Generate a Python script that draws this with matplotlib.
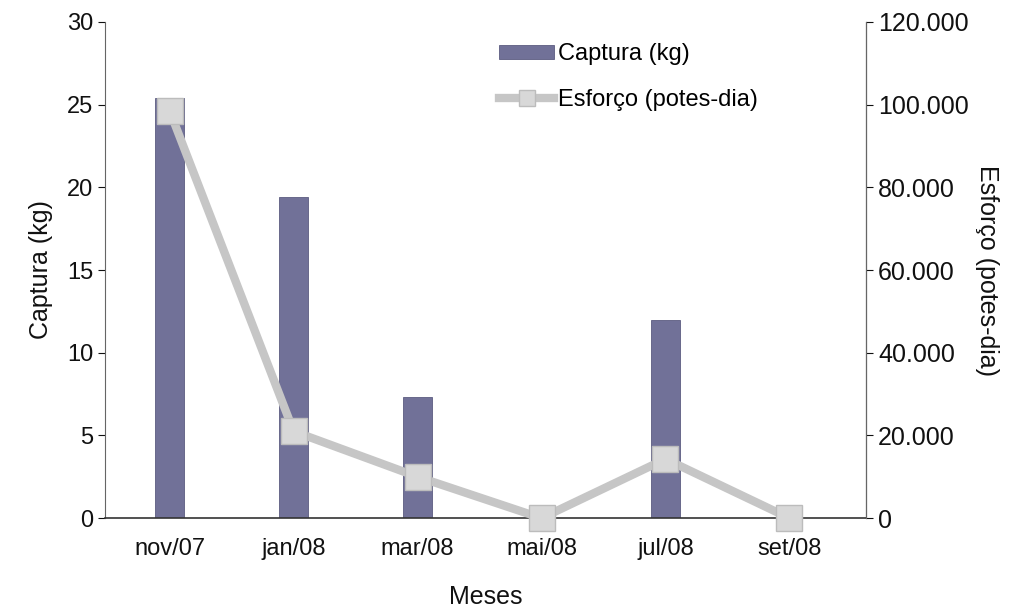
import numpy as np
import matplotlib.pyplot as plt
from matplotlib.ticker import FuncFormatter

plt.rcParams['font.family'] = ['Liberation Sans', 'DejaVu Sans']

meses = ['nov/07', 'jan/08', 'mar/08', 'mai/08', 'jul/08', 'set/08']
captura = [25.4, 19.4, 7.3, 0.0, 12.0, 0.0]          # kg
esforco = [98500, 21000, 10000, 0, 14300, 0]         # potes-dia

x = np.arange(len(meses))

fig = plt.figure(figsize=(10.12, 6.11), dpi=100)
ax = fig.add_axes([0.104, 0.152, 0.752, 0.812])
ax2 = ax.twinx()

bars = ax.bar(x, captura, width=0.23, color='#717198', edgecolor='#5c5c80',
              linewidth=0.6, label='Captura (kg)', zorder=2)

line, = ax2.plot(x, esforco, color='#c6c6c6', lw=6, marker='s', markersize=19,
                 markerfacecolor='#d8d8d8', markeredgecolor='#bcbcbc',
                 markeredgewidth=1, label='Esforço (potes-dia)', zorder=3,
                 clip_on=False)

ax.set_xlim(-0.52, 5.62)
ax.set_ylim(0, 30)
ax.set_yticks(range(0, 31, 5))
ax2.set_ylim(0, 120000)
ax2.set_yticks(range(0, 120001, 20000))
ax2.yaxis.set_major_formatter(
    FuncFormatter(lambda v, p: f'{int(v):,}'.replace(',', '.')))

ax.set_xticks(x)
ax.set_xticklabels(meses)

for a in (ax, ax2):
    a.spines['top'].set_visible(False)
    a.tick_params(labelsize=17, colors='#111111', length=5, width=0.8)
ax.tick_params(axis='x', length=0, pad=14)
ax2.tick_params(axis='y', labelsize=18)
ax.spines['left'].set_color('#666666')
ax.spines['left'].set_linewidth(0.8)
ax.spines['bottom'].set_color('#333333')
ax.spines['bottom'].set_linewidth(1.2)
ax2.spines['left'].set_visible(False)
ax2.spines['bottom'].set_visible(False)
ax2.spines['right'].set_color('#666666')
ax2.spines['right'].set_linewidth(0.8)

ax.set_ylabel('Captura (kg)', fontsize=18, color='#111111', labelpad=10)
ax2.set_ylabel('Esforço (potes-dia)', fontsize=18, color='#111111',
               rotation=-90, labelpad=22)
ax.set_xlabel('Meses', fontsize=18, color='#111111', labelpad=18)

ax.set_zorder(ax2.get_zorder() - 1)
ax2.patch.set_visible(False)
ax.patch.set_visible(True)

ax2.legend([bars, line], ['Captura (kg)', 'Esforço (potes-dia)'],
           loc='upper left', bbox_to_anchor=(0.49, 1.0), frameon=False,
           fontsize=17, handlelength=2.3, handleheight=0.5, handletextpad=0.2,
           labelspacing=1.0, markerscale=0.6)

fig.savefig('out.png', dpi=100)
